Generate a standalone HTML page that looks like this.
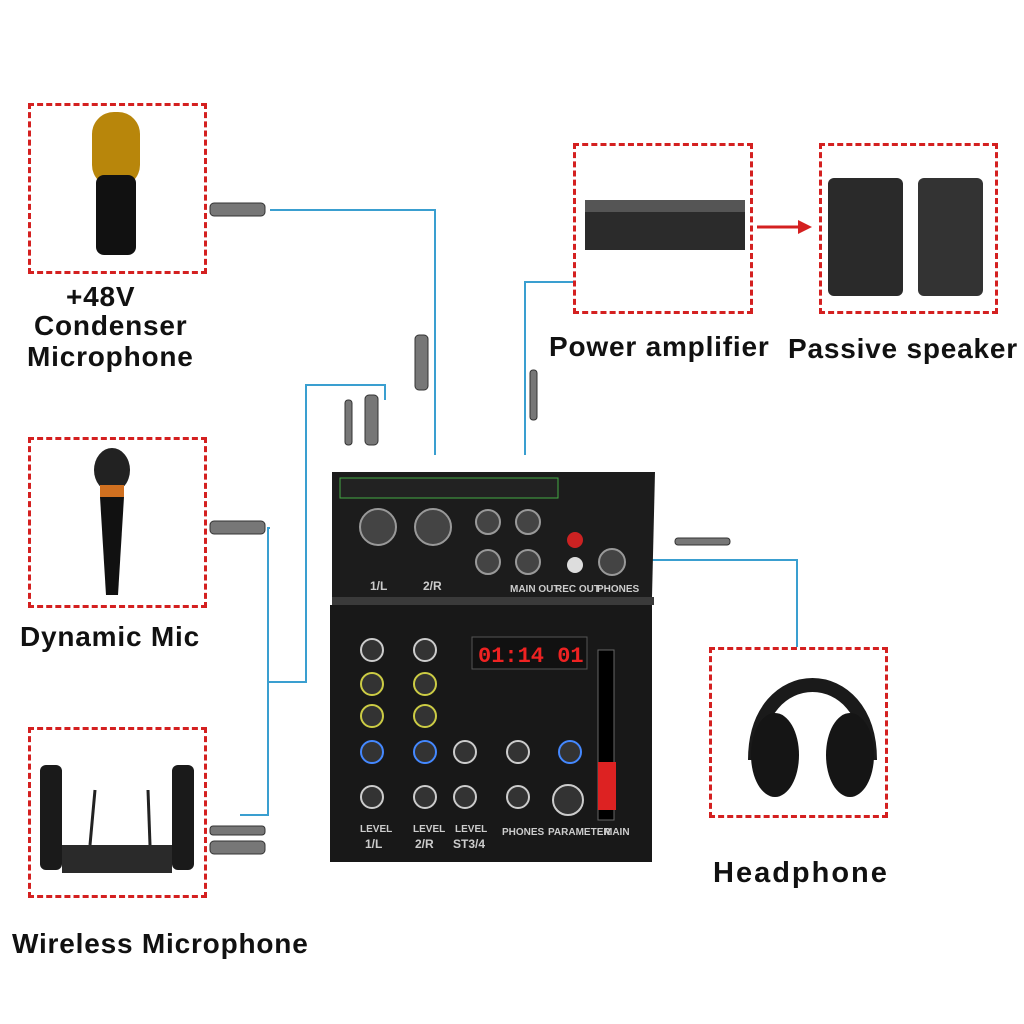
<!DOCTYPE html>
<html><head><meta charset="utf-8"><style>
html,body{margin:0;padding:0;background:#fff}
body{width:1024px;height:1024px;position:relative;overflow:hidden;font-family:"Liberation Sans",sans-serif}
.box{position:absolute;border:3px dashed #d42020;box-sizing:border-box}
.lbl{position:absolute;font-weight:bold;font-size:28px;color:#111;letter-spacing:0.8px;white-space:nowrap}
svg{position:absolute;left:0;top:0}
</style></head><body>
<svg width="1024" height="1024">
<g stroke="#3a9fd0" stroke-width="2" fill="none">
<polyline points="270,210 435,210 435,455"/>
<polyline points="270,528 268,528 268,815 240,815"/>
<polyline points="268,682 306,682 306,385 385,385 385,400"/>
<polyline points="573,282 525,282 525,455"/>
<polyline points="625,560 797,560 797,647"/>
</g>
<line x1="757" y1="227" x2="800" y2="227" stroke="#d42020" stroke-width="3"/>
<polygon points="812,227 798,220 798,234" fill="#d42020"/>
<g fill="#777" stroke="#333" stroke-width="1">
<rect x="210" y="203" width="55" height="13" rx="4"/>
<rect x="210" y="521" width="55" height="13" rx="4"/>
<rect x="210" y="841" width="55" height="13" rx="4"/>
<rect x="210" y="826" width="55" height="9" rx="3"/>
<rect x="415" y="335" width="13" height="55" rx="4"/>
<rect x="365" y="395" width="13" height="50" rx="4"/>
<rect x="345" y="400" width="7" height="45" rx="3"/>
<rect x="530" y="370" width="7" height="50" rx="3"/>
<rect x="675" y="538" width="55" height="7" rx="3"/>
</g>
<rect x="92" y="112" width="48" height="75" rx="22" fill="#b8860b"/>
<rect x="96" y="175" width="40" height="80" rx="8" fill="#111"/>
<ellipse cx="112" cy="470" rx="18" ry="22" fill="#222"/>
<rect x="100" y="485" width="24" height="12" fill="#d07020"/>
<polygon points="100,497 124,497 118,595 106,595" fill="#111"/>
<rect x="40" y="765" width="22" height="105" rx="6" fill="#1a1a1a"/>
<rect x="172" y="765" width="22" height="105" rx="6" fill="#1a1a1a"/>
<rect x="62" y="845" width="110" height="28" fill="#2a2a2a"/>
<line x1="90" y1="845" x2="95" y2="790" stroke="#222" stroke-width="3"/>
<line x1="150" y1="845" x2="148" y2="790" stroke="#222" stroke-width="3"/>
<rect x="585" y="200" width="160" height="50" fill="#2b2b2b"/>
<rect x="585" y="200" width="160" height="12" fill="#555"/>
<rect x="828" y="178" width="75" height="118" rx="6" fill="#2a2a2a"/>
<rect x="918" y="178" width="65" height="118" rx="6" fill="#333"/>
<path d="M755,760 C755,660 870,660 870,760" stroke="#1a1a1a" stroke-width="14" fill="none"/>
<ellipse cx="775" cy="755" rx="24" ry="42" fill="#151515"/>
<ellipse cx="850" cy="755" rx="24" ry="42" fill="#151515"/>
<polygon points="332,472 655,472 652,597 332,597" fill="#1c1c1c"/>
<rect x="332" y="597" width="322" height="8" fill="#3a3a3a"/>
<rect x="330" y="605" width="322" height="257" fill="#181818"/>
<rect x="340" y="478" width="218" height="20" fill="#222" stroke="#4a4" stroke-width="1"/>
<g fill="#444" stroke="#999" stroke-width="2">
<circle cx="378" cy="527" r="18"/><circle cx="433" cy="527" r="18"/>
<circle cx="488" cy="522" r="12"/><circle cx="488" cy="562" r="12"/>
<circle cx="528" cy="522" r="12"/><circle cx="528" cy="562" r="12"/>
<circle cx="612" cy="562" r="13"/>
</g>
<circle cx="575" cy="540" r="8" fill="#c22"/><circle cx="575" cy="565" r="8" fill="#ddd"/>
<rect x="472" y="637" width="115" height="32" fill="#111" stroke="#555"/>
<text x="478" y="662" fill="#e22" font-family="Liberation Mono" font-size="22" font-weight="bold">01:14 01</text>
<g fill="#333" stroke="#ccc" stroke-width="2">
<circle cx="372" cy="650" r="11"/><circle cx="425" cy="650" r="11"/>
<circle cx="372" cy="684" r="11" stroke="#cc4"/><circle cx="425" cy="684" r="11" stroke="#cc4"/>
<circle cx="372" cy="716" r="11" stroke="#cc4"/><circle cx="425" cy="716" r="11" stroke="#cc4"/>
<circle cx="372" cy="752" r="11" stroke="#48f"/><circle cx="425" cy="752" r="11" stroke="#48f"/>
<circle cx="372" cy="797" r="11"/><circle cx="425" cy="797" r="11"/>
<circle cx="465" cy="752" r="11"/><circle cx="518" cy="752" r="11"/><circle cx="570" cy="752" r="11" stroke="#48f"/>
<circle cx="465" cy="797" r="11"/><circle cx="518" cy="797" r="11"/><circle cx="568" cy="800" r="15"/>
</g>
<rect x="598" y="650" width="16" height="170" fill="#000" stroke="#666"/>
<rect x="598" y="762" width="18" height="48" fill="#d22"/>
<g fill="#ccc" font-size="10" font-weight="bold">
<text x="360" y="832">LEVEL</text><text x="413" y="832">LEVEL</text><text x="455" y="832">LEVEL</text>
<text x="365" y="848" font-size="12">1/L</text><text x="415" y="848" font-size="12">2/R</text><text x="453" y="848" font-size="12">ST3/4</text>
<text x="502" y="835">PHONES</text><text x="548" y="835">PARAMETER</text><text x="604" y="835">MAIN</text>
<text x="370" y="590" font-size="12">1/L</text><text x="423" y="590" font-size="12">2/R</text>
<text x="510" y="592">MAIN OUT</text><text x="555" y="592">REC OUT</text><text x="597" y="592">PHONES</text>
</g>
</svg>
<div class="box" style="left:28px;top:103px;width:179px;height:171px"></div>
<div class="box" style="left:28px;top:437px;width:179px;height:171px"></div>
<div class="box" style="left:28px;top:727px;width:179px;height:171px"></div>
<div class="box" style="left:573px;top:143px;width:180px;height:171px"></div>
<div class="box" style="left:819px;top:143px;width:179px;height:171px"></div>
<div class="box" style="left:709px;top:647px;width:179px;height:171px"></div>
<div class="lbl" style="left:66px;top:281px">+48V</div>
<div class="lbl" style="left:34px;top:310px">Condenser</div>
<div class="lbl" style="left:27px;top:341px">Microphone</div>
<div class="lbl" style="left:20px;top:621px">Dynamic Mic</div>
<div class="lbl" style="left:12px;top:928px">Wireless Microphone</div>
<div class="lbl" style="left:549px;top:331px">Power amplifier</div>
<div class="lbl" style="left:788px;top:333px">Passive speaker</div>
<div class="lbl" style="left:713px;top:857px;font-size:29px;letter-spacing:2px">Headphone</div>
</body></html>
